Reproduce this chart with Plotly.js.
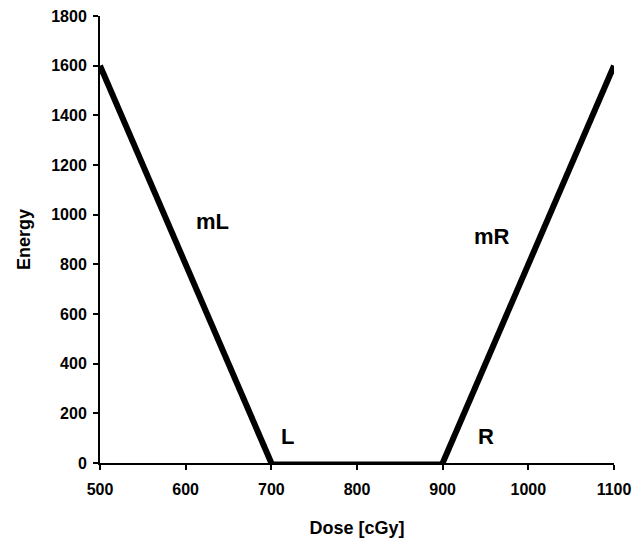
<!DOCTYPE html>
<html>
<head>
<meta charset="utf-8">
<script src="https://cdn.plot.ly/plotly-3.0.1.min.js"></script>
<style>html,body{margin:0;padding:0;background:#fff;}#chart{width:633px;height:548px;}</style>
</head>
<body>
<div id="chart"></div>
<script>
var doseValues = [500, 700, 900, 1100];
var energyValues = [1600, 0, 0, 1600];
var labelTexts = ["mL", "L", "mR", "R"];
var labelX = [631, 719, 957, 951];
var labelY = [971, 105, 914, 105];
var xTicks = [500, 600, 700, 800, 900, 1000, 1100];
var yTicks = [0, 200, 400, 600, 800, 1000, 1200, 1400, 1600, 1800];

var fontFam = "Liberation Sans, Arial, sans-serif";
var annotations = labelTexts.map(function(t, i){
  return {x: labelX[i], y: labelY[i], text: t, showarrow: false, xref: 'x', yref: 'y',
    font: {family: fontFam, size: 22, color: '#000', weight: 'bold'}};
});

// thick sloped segments, thin flat segment (lies on the axis)
var thickTrace = {
  x: [doseValues[0], doseValues[1], null, doseValues[2], doseValues[3]],
  y: [energyValues[0], energyValues[1], null, energyValues[2], energyValues[3]],
  mode: 'lines', type: 'scatter', connectgaps: false,
  line: {color: '#000', width: 6}, hoverinfo: 'none'
};
var flatTrace = {
  x: [doseValues[1], doseValues[2]],
  y: [energyValues[1], energyValues[2]],
  mode: 'lines', type: 'scatter',
  line: {color: '#000', width: 3}, hoverinfo: 'none'
};

Plotly.newPlot('chart', [flatTrace, thickTrace], {
  width: 633, height: 548,
  margin: {l: 100, r: 19, t: 16, b: 85},
  paper_bgcolor: '#fff', plot_bgcolor: '#fff',
  showlegend: false,
  xaxis: {range: [500, 1100], tickvals: xTicks, ticktext: xTicks.map(String),
    showgrid: false, zeroline: false, showline: true, linecolor: '#000', linewidth: 2,
    ticks: 'outside', ticklen: 5, tickwidth: 2, tickcolor: '#000', ticklabelstandoff: 6,
    tickfont: {family: fontFam, size: 16, color: '#000', weight: 'bold'},
    title: {text: 'Dose [cGy]', font: {family: fontFam, size: 18, color: '#000', weight: 'bold'}, standoff: 24}},
  yaxis: {range: [0, 1800], tickvals: yTicks, ticktext: yTicks.map(String),
    showgrid: false, zeroline: false, showline: true, linecolor: '#000', linewidth: 2,
    ticks: 'outside', ticklen: 5, tickwidth: 2, tickcolor: '#000', ticklabelstandoff: 3,
    tickfont: {family: fontFam, size: 16, color: '#000', weight: 'bold'},
    title: {text: 'Energy', font: {family: fontFam, size: 18, color: '#000', weight: 'bold'}, standoff: 16}},
  annotations: annotations
}, {staticPlot: true});
</script>
</body>
</html>
